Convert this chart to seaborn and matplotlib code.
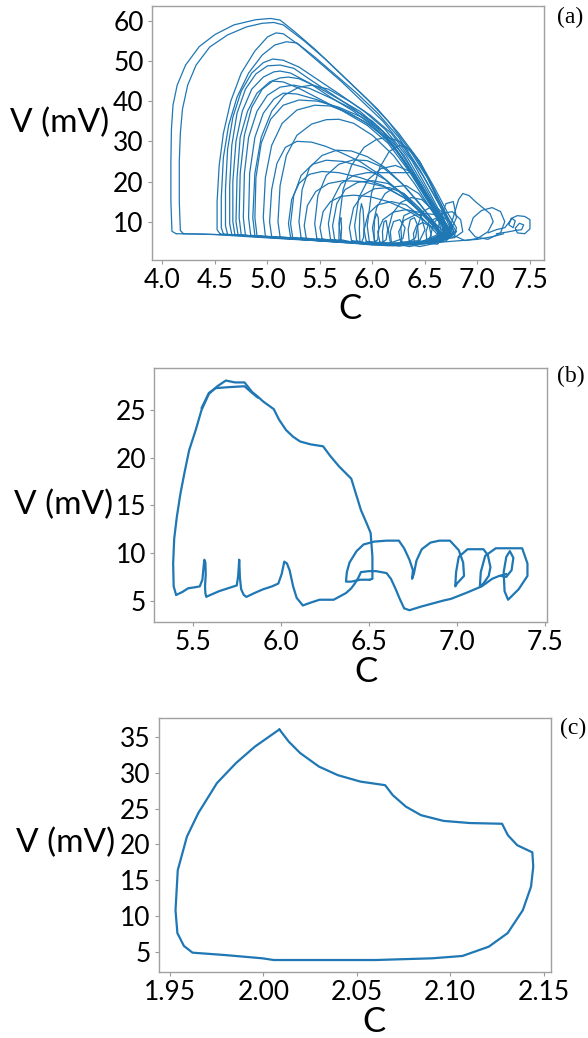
import matplotlib
matplotlib.use("Agg")
import matplotlib.pyplot as plt
import pandas as pd
import seaborn as sns

BLUE = "#1f77b4"

# ---------------- Panel (a): chaotic trajectory, drawn as loops ----------------
a_big = [
    ([4.13, 4.09, 4.08, 4.08, 4.085, 4.10, 4.14, 4.22, 4.35, 4.50, 4.68, 4.89, 5.03, 5.12, 5.25, 5.45, 5.65, 5.85, 6.05, 6.25, 6.45, 6.60, 6.72, 6.80, 6.78, 6.60, 6.30, 5.95, 5.55, 5.10, 4.70, 4.40, 4.13],
     [7.0, 7.6, 15, 25, 33, 39, 44, 49, 53.6, 56.6, 59, 60.3, 60.6, 60.2, 57.5, 53, 48, 43, 38, 32, 25, 18, 12, 8.5, 6.3, 5.0, 4.5, 4.6, 5.2, 5.9, 6.6, 6.9, 7.0]),
    ([4.20, 4.17, 4.16, 4.16, 4.17, 4.19, 4.24, 4.32, 4.45, 4.62, 4.80, 4.95, 5.06, 5.15, 5.35, 5.55, 5.75, 5.95, 6.15, 6.35, 6.52, 6.66, 6.76, 6.74, 6.55, 6.20, 5.80, 5.30, 4.85, 4.50, 4.20],
     [7.0, 7.8, 15, 25, 32, 38, 44, 49, 53.5, 56.5, 58.5, 59.4, 59.6, 59.0, 55, 50.5, 45.5, 40.5, 35, 28, 21, 14, 9, 6.2, 4.9, 4.5, 4.8, 5.5, 6.2, 6.8, 7.0]),
    ([4.55, 4.52, 4.52, 4.54, 4.58, 4.65, 4.75, 4.88, 5.00, 5.08, 5.15, 5.30, 5.50, 5.70, 5.90, 6.10, 6.30, 6.48, 6.62, 6.73, 6.78, 6.70, 6.45, 6.05, 5.60, 5.10, 4.75, 4.55],
     [6.9, 8.0, 15, 24, 32, 40, 47, 52.5, 56, 57.0, 56.8, 54, 49.5, 45, 40, 35, 28.5, 21.5, 15, 10, 7.2, 5.5, 4.6, 4.5, 5.2, 6.0, 6.6, 6.9]),
    ([4.58, 4.56, 4.56, 4.58, 4.63, 4.71, 4.82, 4.95, 5.07, 5.18, 5.28, 5.45, 5.65, 5.85, 6.05, 6.25, 6.45, 6.60, 6.72, 6.78, 6.68, 6.40, 6.00, 5.55, 5.05, 4.75, 4.58],
     [6.9, 8.5, 16, 26, 34, 41, 47, 51.5, 54, 54.8, 54.5, 51, 46.5, 42, 37, 31, 23, 16, 10.5, 7.5, 5.4, 4.5, 4.6, 5.3, 6.1, 6.6, 6.9]),
    ([4.62, 4.60, 4.60, 4.62, 4.67, 4.75, 4.85, 4.96, 5.05, 5.15, 5.30, 5.50, 5.70, 5.92, 6.12, 6.32, 6.50, 6.64, 6.74, 6.72, 6.50, 6.10, 5.65, 5.15, 4.80, 4.62],
     [6.8, 9, 18, 28, 36, 42.5, 47, 49.6, 50.5, 50.2, 48.5, 45, 41.5, 37.5, 33, 26.5, 18.5, 12, 8, 5.8, 4.7, 4.5, 5.1, 5.9, 6.5, 6.8]),
    ([4.66, 4.64, 4.64, 4.66, 4.71, 4.79, 4.89, 5.00, 5.12, 5.25, 5.40, 5.60, 5.80, 6.00, 6.20, 6.40, 6.56, 6.68, 6.75, 6.65, 6.35, 5.95, 5.50, 5.05, 4.78, 4.66],
     [6.8, 9.5, 19, 29, 37, 43, 46.8, 48.8, 49.0, 48.2, 45.5, 42, 38.5, 34.5, 29, 21.5, 14.5, 9.5, 6.8, 5.0, 4.4, 4.6, 5.3, 6.1, 6.6, 6.8]),
    ([4.69, 4.67, 4.67, 4.70, 4.76, 4.85, 4.96, 5.06, 5.12, 5.22, 5.40, 5.60, 5.82, 6.02, 6.22, 6.42, 6.58, 6.70, 6.76, 6.62, 6.30, 5.88, 5.40, 4.95, 4.69],
     [6.7, 10, 20, 30, 37.5, 43, 46, 47.3, 47.5, 47.0, 44.5, 41, 37.5, 33.5, 28, 20, 13.5, 9, 6.6, 5.0, 4.5, 4.7, 5.5, 6.2, 6.7]),
    ([4.72, 4.70, 4.71, 4.74, 4.81, 4.90, 5.02, 5.12, 5.20, 5.30, 5.48, 5.68, 5.88, 6.08, 6.28, 6.46, 6.60, 6.70, 6.66, 6.40, 6.00, 5.55, 5.10, 4.85, 4.72],
     [6.7, 10, 21, 31, 37.5, 42, 44.8, 45.8, 46.0, 45.6, 43.5, 40.5, 37.5, 33, 26, 18, 12, 8, 5.6, 4.4, 4.6, 5.2, 6.0, 6.5, 6.7]),
    ([4.75, 4.73, 4.74, 4.78, 4.85, 4.95, 5.05, 5.15, 5.30, 5.50, 5.72, 5.95, 6.15, 6.35, 6.52, 6.65, 6.74, 6.60, 6.20, 5.75, 5.25, 4.90, 4.75],
     [6.7, 11, 22, 31.5, 38.5, 43, 45.0, 44.8, 43.2, 40.5, 37.5, 34, 29.5, 22.5, 15.5, 10.5, 7.2, 5.2, 4.5, 4.8, 5.7, 6.3, 6.7]),
    ([4.79, 4.77, 4.78, 4.82, 4.90, 5.00, 5.12, 5.25, 5.40, 5.60, 5.80, 6.00, 6.20, 6.40, 6.56, 6.68, 6.72, 6.55, 6.15, 5.70, 5.20, 4.92, 4.79],
     [6.6, 11, 22, 31, 37.5, 41.5, 43.5, 44.0, 43.2, 40.8, 38.2, 35, 30, 22, 15, 10, 7, 5.0, 4.5, 4.9, 5.8, 6.3, 6.6]),
    ([4.84, 4.82, 4.83, 4.88, 4.96, 5.06, 5.15, 5.28, 5.48, 5.70, 5.92, 6.12, 6.32, 6.50, 6.64, 6.72, 6.58, 6.20, 5.75, 5.25, 4.95, 4.84],
     [6.6, 11, 22, 31, 37, 40.5, 42.0, 41.8, 40.3, 38, 35, 31, 24.5, 17, 11, 7.5, 5.3, 4.4, 4.9, 5.8, 6.4, 6.6]),
    ([4.88, 4.86, 4.88, 4.94, 5.04, 5.16, 5.30, 5.42, 5.58, 5.78, 5.98, 6.18, 6.38, 6.55, 6.68, 6.74, 6.56, 6.15, 5.65, 5.15, 4.88],
     [6.5, 11, 22, 31, 37.5, 41.5, 43.5, 44, 43, 40, 36.5, 32, 25, 17, 10.5, 7, 5.0, 4.2, 4.9, 5.9, 6.5]),
    ([4.90, 4.88, 4.89, 4.94, 5.03, 5.15, 5.30, 5.48, 5.68, 5.90, 6.10, 6.30, 6.48, 6.62, 6.70, 6.62, 6.30, 5.85, 5.35, 5.00, 4.90],
     [6.5, 11, 21, 29.5, 35.5, 39, 40.3, 40.0, 38.5, 36, 32.5, 26.5, 18.5, 12, 8, 5.5, 4.5, 4.7, 5.6, 6.2, 6.5]),
    ([4.98, 4.96, 4.98, 5.04, 5.14, 5.28, 5.45, 5.60, 5.78, 5.98, 6.18, 6.38, 6.55, 6.66, 6.70, 6.50, 6.05, 5.55, 5.15, 4.98],
     [6.4, 11, 21, 29, 34.5, 37.8, 39.0, 38.8, 37, 34, 29.5, 22, 14.5, 9.5, 6.8, 4.8, 4.5, 5.3, 6.0, 6.4]),
]

a_mid = [
    ([5.12, 5.10, 5.12, 5.18, 5.28, 5.42, 5.56, 5.68, 5.82, 6.00, 6.20, 6.40, 6.56, 6.66, 6.68, 6.48, 6.05, 5.55, 5.12],
     [6.2, 10, 19, 26.5, 31.5, 34.3, 35.4, 35.5, 34.5, 31.5, 26.5, 19.5, 13, 9, 6.5, 4.7, 4.4, 5.3, 6.2]),
    ([5.04, 5.02, 5.04, 5.09, 5.17, 5.28, 5.42, 5.55, 5.70, 5.88, 6.08, 6.28, 6.46, 6.60, 6.66, 6.50, 6.10, 5.60, 5.04],
     [6.3, 10, 18, 24.5, 28.5, 30.0, 29.8, 28.8, 27.2, 25, 21.5, 17, 12.5, 8.8, 6.4, 4.8, 4.5, 5.3, 6.3]),
    ([5.32, 5.30, 5.33, 5.40, 5.52, 5.66, 5.80, 5.95, 6.12, 6.30, 6.46, 6.60, 6.66, 6.50, 6.10, 5.70, 5.32],
     [6.0, 10, 18, 23.5, 26.5, 27.8, 27.6, 26.2, 23.5, 19, 14, 9.5, 6.8, 4.9, 4.4, 5.0, 6.0]),
    ([5.47, 5.45, 5.48, 5.56, 5.68, 5.82, 5.95, 6.10, 6.28, 6.45, 6.58, 6.64, 6.45, 6.05, 5.70, 5.47],
     [5.8, 9.5, 16.5, 21.5, 24.3, 25.4, 25.2, 23.5, 19.5, 14.5, 10, 7, 4.8, 4.4, 5.0, 5.8]),
    ([5.70, 5.68, 5.72, 5.80, 5.92, 6.04, 6.14, 6.26, 6.40, 6.54, 6.66, 6.74, 6.72, 6.50, 6.10, 5.85, 5.70],
     [5.5, 9.5, 18, 24, 28.5, 30.5, 31.0, 30.0, 26.5, 20.5, 14, 9.5, 6.8, 5.0, 4.3, 4.7, 5.5]),
    ([5.60, 5.58, 5.62, 5.70, 5.82, 5.95, 6.15, 6.39, 6.48, 6.57, 6.64, 6.66, 6.48, 6.10, 5.78, 5.60],
     [5.6, 9.5, 15.5, 19.5, 21.5, 22.2, 22.2, 22.2, 18.5, 13.5, 9.5, 6.8, 4.8, 4.3, 4.9, 5.6]),
    ([5.80, 5.78, 5.82, 5.90, 6.02, 6.16, 6.30, 6.44, 6.56, 6.64, 6.55, 6.20, 5.95, 5.80],
     [5.3, 8.5, 13.5, 16.5, 18.2, 18.5, 17.0, 13.5, 9.8, 7.0, 5.0, 4.3, 4.7, 5.3]),
    ([5.94, 5.92, 5.96, 6.05, 6.18, 6.32, 6.45, 6.56, 6.64, 6.52, 6.20, 5.94],
     [5.1, 8, 12, 14.2, 15.0, 14.2, 11.5, 8.5, 6.2, 4.7, 4.3, 5.1]),
    ([6.07, 6.05, 6.10, 6.20, 6.32, 6.45, 6.58, 6.68, 6.60, 6.30, 6.07],
     [4.9, 7.5, 10.5, 12.4, 13.0, 12.3, 10, 7.5, 5.2, 4.3, 4.9]),
    ([5.37, 5.35, 5.38, 5.46, 5.58, 5.72, 5.90, 6.10, 6.30, 6.48, 6.60, 6.64, 6.45, 6.00, 5.60, 5.37],
     [5.8, 9, 14, 17.5, 19.5, 20.2, 20.0, 18.8, 16, 12, 8.5, 6.4, 4.7, 4.4, 5.2, 5.8]),
    ([5.24, 5.22, 5.25, 5.32, 5.43, 5.56, 5.72, 5.92, 6.12, 6.32, 6.50, 6.62, 6.66, 6.45, 6.00, 5.55, 5.24],
     [6.0, 9.5, 16.5, 21.5, 24.3, 25.3, 25.0, 23.5, 20.5, 16, 11, 7.8, 6.2, 4.7, 4.4, 5.3, 6.0]),
    ([5.97, 5.95, 5.99, 6.07, 6.16, 6.26, 6.36, 6.46, 6.56, 6.66, 6.74, 6.70, 6.45, 6.15, 5.97],
     [5.0, 9, 17, 23.5, 27.5, 29.0, 28.0, 24.5, 19, 13, 8.5, 6.0, 4.5, 4.4, 5.0]),
]

a_mid2 = [
    ([5.52, 5.50, 5.53, 5.60, 5.70, 5.82, 5.98, 6.15, 6.32, 6.48, 6.60, 6.66, 6.50, 6.05, 5.75, 5.52],
     [5.7, 8.5, 12.5, 15, 16.3, 16.6, 16.2, 15, 13, 10.5, 8, 6.2, 4.6, 4.2, 4.9, 5.7]),
    ([5.64, 5.62, 5.66, 5.74, 5.86, 6.00, 6.15, 6.32, 6.48, 6.60, 6.68, 6.55, 6.15, 5.85, 5.64],
     [5.5, 9, 14.5, 18, 19.8, 20.2, 19.5, 16.5, 12.5, 9, 6.5, 4.6, 4.0, 4.6, 5.5]),
    ([5.85, 5.83, 5.87, 5.96, 6.08, 6.22, 6.36, 6.48, 6.60, 6.70, 6.75, 6.60, 6.20, 5.98, 5.85],
     [5.2, 9, 16, 20.5, 23.2, 24.0, 22.5, 18.5, 13.5, 9.5, 7, 5.0, 4.0, 4.5, 5.2]),
    ([6.02, 6.00, 6.04, 6.12, 6.22, 6.32, 6.44, 6.56, 6.66, 6.72, 6.58, 6.25, 6.02],
     [5.0, 8.5, 13.5, 17, 18.7, 19.0, 17, 13, 9.5, 7, 5.0, 3.9, 5.0]),
    ([6.17, 6.15, 6.19, 6.27, 6.37, 6.47, 6.57, 6.66, 6.72, 6.62, 6.35, 6.17],
     [4.8, 8, 12, 14.8, 16, 15.5, 13, 10, 7.5, 5.2, 3.8, 4.8]),
    ([6.27, 6.25, 6.30, 6.40, 6.52, 6.64, 6.74, 6.80, 6.70, 6.45, 6.27],
     [4.7, 7.5, 10.3, 11.6, 12.0, 11.6, 10, 7.5, 5.2, 3.8, 4.7]),
    ([5.22, 5.20, 5.23, 5.30, 5.40, 5.52, 5.68, 5.88, 6.10, 6.30, 6.48, 6.60, 6.66, 6.45, 6.00, 5.55, 5.22],
     [6.1, 9.5, 15.5, 19.5, 21.8, 22.5, 22.2, 21, 19, 16, 12, 8.5, 6.4, 4.6, 4.2, 5.2, 6.1]),
]

a_small = [
    ([5.88, 5.875, 5.88, 5.895, 5.91, 5.92, 5.915, 5.90], [5.2, 8, 12, 14.5, 13, 9, 6, 5.2]),
    ([6.02, 6.015, 6.02, 6.04, 6.055, 6.06, 6.05, 6.02], [5.0, 7.5, 10.5, 12, 11, 8, 5.5, 5.0]),
    ([6.28, 6.27, 6.30, 6.38, 6.46, 6.50, 6.45, 6.28], [4.9, 8.5, 11.5, 12.5, 11.5, 8, 5.3, 4.9]),
    ([6.44, 6.43, 6.48, 6.58, 6.66, 6.70, 6.62, 6.44], [5.1, 9, 12.5, 14, 12.5, 8.5, 5.5, 5.1]),
    ([6.55, 6.58, 6.66, 6.76, 6.84, 6.86, 6.78, 6.62, 6.55], [6.0, 9.5, 12, 12.5, 10.5, 7.5, 6.0, 5.6, 6.0]),
    ([6.18, 6.17, 6.20, 6.26, 6.31, 6.29, 6.18], [4.8, 7.5, 10, 10.5, 8.5, 5.8, 4.8]),
    ([5.68, 5.682, 5.69, 5.70, 5.706, 5.70, 5.69], [5.4, 8, 10.5, 11, 8.5, 6, 5.4]),
    ([6.35, 6.34, 6.36, 6.40, 6.43, 6.41, 6.35], [5.0, 8, 10.5, 11, 9, 6, 5.0]),
    ([6.10, 6.095, 6.11, 6.13, 6.145, 6.13, 6.10], [4.9, 7.5, 10, 10.3, 8, 5.5, 4.9]),
    ([6.62, 6.64, 6.70, 6.77, 6.80, 6.74, 6.64, 6.62], [7, 10.5, 14.5, 15, 11, 7.5, 6.5, 7]),
    ([6.40, 6.39, 6.42, 6.48, 6.54, 6.56, 6.50, 6.40], [4.6, 7, 9, 9.8, 9, 6.5, 4.5, 4.6]),
    ([6.52, 6.51, 6.54, 6.60, 6.66, 6.69, 6.62, 6.52], [4.6, 7.5, 10, 10.8, 9.5, 6.5, 4.4, 4.6]),
]

a_right = [
    ([6.74, 6.78, 6.82, 6.86, 6.92, 6.98, 7.05, 7.12, 7.15, 7.10, 7.00, 6.88, 6.78, 6.74],
     [8.5, 12, 15.5, 17.0, 16.5, 15, 13.5, 12, 10, 7.5, 5.8, 5.3, 6.5, 8.5]),
    ([6.92, 6.96, 7.04, 7.14, 7.22, 7.26, 7.22, 7.10, 6.98, 6.92],
     [8, 11, 12.8, 13.5, 12.5, 10, 7.2, 5.6, 6.2, 8]),
    ([7.10, 7.18, 7.26, 7.30, 7.33, 7.36, 7.34, 7.30, 7.32, 7.38, 7.45, 7.50, 7.50, 7.45, 7.38, 7.36, 7.40, 7.44, 7.42, 7.36, 7.28, 7.18],
     [7.2, 8, 8.5, 9.8, 10.8, 10.2, 8.5, 9.2, 10.8, 11.5, 11.3, 10.5, 8.2, 7.0, 7.2, 8.4, 9.6, 9.2, 8.0, 7.8, 7.4, 7.0]),
    ([6.60, 6.80, 7.00, 7.15, 7.25], [4.8, 5.2, 5.6, 6.3, 7.0]),
]

# ---------------- Panel (b) ----------------
b_main_c = [5.406, 5.392, 5.389, 5.395, 5.41, 5.43, 5.453, 5.48, 5.517, 5.55, 5.592, 5.64, 5.688, 5.74, 5.794, 5.837, 5.87, 5.90, 5.96, 5.99, 6.03, 6.07, 6.11, 6.17, 6.24, 6.28, 6.33, 6.40, 6.43, 6.455, 6.49, 6.51, 6.52, 6.52, 6.505]
b_main_v = [5.6, 6.5, 8.9, 11.5, 13.8, 16.2, 18.4, 20.8, 22.9, 25.0, 26.7, 27.5, 28.1, 27.9, 27.9, 26.9, 26.4, 25.9, 25.1, 24.0, 22.9, 22.2, 21.7, 21.4, 21.2, 20.2, 19.1, 17.8, 16.0, 14.5, 13.0, 12.1, 9.6, 7.3, 7.2]
b_top2_c = [5.55, 5.592, 5.63, 5.70, 5.794, 5.837, 5.87]
b_top2_v = [25.2, 26.8, 27.3, 27.4, 27.5, 26.8, 26.3]
b_right_c = [6.505, 6.45, 6.40, 6.37, 6.375, 6.39, 6.43, 6.47, 6.53, 6.60, 6.67, 6.70, 6.73, 6.75, 6.745, 6.755, 6.77, 6.80, 6.85, 6.90, 6.96, 7.01, 7.035, 7.04, 7.00, 6.99, 6.995, 7.01, 7.06, 7.15, 7.175, 7.19, 7.18, 7.15, 7.13, 7.135, 7.16, 7.22, 7.30, 7.37, 7.40, 7.40, 7.35, 7.29, 7.27, 7.265, 7.28, 7.30, 7.32, 7.31, 7.28, 7.25]
b_right_v = [7.2, 7.2, 7.0, 7.0, 8.0, 9.0, 10.2, 10.9, 11.2, 11.3, 11.3, 10.5, 9.3, 8.2, 7.3, 7.8, 9.2, 10.4, 11.1, 11.3, 11.3, 10.3, 9.0, 7.6, 6.8, 6.5, 8.0, 9.6, 10.4, 10.4, 9.8, 8.5, 7.6, 6.8, 6.5, 8.0, 9.7, 10.5, 10.5, 10.5, 8.9, 7.6, 6.2, 5.1, 6.0, 8.0, 9.6, 10.2, 9.5, 8.2, 7.5, 7.6]
b_low_c = [5.406, 5.44, 5.474, 5.51, 5.54, 5.555, 5.562, 5.566, 5.572, 5.574, 5.570, 5.572, 5.577, 5.60, 5.65, 5.70, 5.75, 5.758, 5.764, 5.768, 5.775, 5.79, 5.805, 5.85, 5.90, 5.95, 5.986, 6.005, 6.02, 6.035, 6.05, 6.07, 6.09, 6.125, 6.17, 6.22, 6.30, 6.37, 6.40, 6.42, 6.44, 6.455, 6.50, 6.54, 6.60, 6.625, 6.65, 6.675, 6.70, 6.73, 6.80, 6.86, 6.92, 6.967, 7.05, 7.14, 7.20, 7.24, 7.28]
b_low_v = [5.6, 5.9, 6.3, 6.4, 6.5, 7.2, 8.6, 9.3, 9.0, 7.8, 6.5, 5.8, 5.4, 5.6, 6.0, 6.3, 6.6, 7.6, 9.3, 7.4, 6.2, 5.6, 5.4, 5.8, 6.2, 6.5, 6.8, 7.8, 9.1, 8.9, 8.2, 6.5, 5.3, 4.5, 4.8, 5.1, 5.1, 5.8, 6.3, 6.8, 7.4, 8.0, 8.1, 8.1, 7.9, 7.3, 6.3, 5.2, 4.2, 4.0, 4.4, 4.7, 5.0, 5.2, 5.8, 6.5, 7.3, 7.6, 7.8]

# ---------------- Panel (c): limit cycle ----------------
c_c = [2.0086, 2.0136, 2.0197, 2.0298, 2.0399, 2.052, 2.0652, 2.0693, 2.0763, 2.0844, 2.0965, 2.1106, 2.1278, 2.1309, 2.1359, 2.144, 2.1445, 2.1433, 2.1389, 2.1308, 2.1207, 2.1066, 2.0904, 2.0601, 2.0399, 2.0056, 1.9995, 1.9793, 1.9621, 1.9575, 1.954, 1.953, 1.9542, 1.9591, 1.9652, 1.9752, 1.9854, 1.9955, 2.0086]
c_v = [36.1, 34.4, 32.8, 30.9, 29.7, 28.8, 28.3, 26.9, 25.3, 24.1, 23.3, 23.0, 22.9, 21.3, 19.9, 18.9, 16.9, 14.1, 10.8, 7.6, 5.7, 4.4, 4.07, 3.83, 3.83, 3.83, 4.07, 4.53, 4.86, 5.8, 7.6, 10.8, 16.4, 21.1, 24.4, 28.6, 31.4, 33.7, 36.1]

a_xticks = [4.0, 4.5, 5.0, 5.5, 6.0, 6.5, 7.0, 7.5]
a_yticks = [10, 20, 30, 40, 50, 60]
b_xticks = [5.5, 6.0, 6.5, 7.0, 7.5]
b_yticks = [5, 10, 15, 20, 25]
c_xticks = [1.95, 2.00, 2.05, 2.10, 2.15]
c_yticks = [5, 10, 15, 20, 25, 30, 35]


def segments_df(segs):
    rows = []
    for k, (cs, vs) in enumerate(segs):
        for i, (c, v) in enumerate(zip(cs, vs)):
            rows.append({"seg": k, "i": i, "C": c, "V": v})
    return pd.DataFrame(rows)


sns.set_theme(style="white")
plt.rcParams["font.family"] = ["Lato", "DejaVu Sans"]
plt.rcParams["text.color"] = "black"
plt.rcParams["axes.labelcolor"] = "black"
plt.rcParams["xtick.color"] = "black"
plt.rcParams["ytick.color"] = "black"

fig = plt.figure(figsize=(5.88, 10.38), dpi=100)
ax_a = fig.add_axes([0.2585, 0.7495, 0.6667, 0.2447])
ax_b = fig.add_axes([0.2624, 0.4011, 0.6679, 0.2447])
ax_c = fig.add_axes([0.2699, 0.0639, 0.6672, 0.2441])

df_a = segments_df(a_big + a_mid + a_mid2 + a_small + a_right)
df_b = segments_df([(b_main_c, b_main_v), (b_top2_c, b_top2_v), (b_right_c, b_right_v), (b_low_c, b_low_v)])
df_c = segments_df([(c_c, c_v)])

for ax, df, lw in [(ax_a, df_a, 0.9), (ax_b, df_b, 1.6), (ax_c, df_c, 1.6)]:
    sns.lineplot(data=df, x="C", y="V", units="seg", estimator=None, sort=False,
                 color=BLUE, linewidth=lw, ax=ax, legend=False)

ax_a.set_xlim(3.90, 7.634); ax_a.set_ylim(0.45, 63.7)
ax_b.set_xlim(5.282, 7.511); ax_b.set_ylim(2.8, 29.45)
ax_c.set_xlim(1.944, 2.154); ax_c.set_ylim(2.2, 37.66)

ax_a.set_xticks(a_xticks); ax_a.set_xticklabels([f"{t:.1f}" for t in a_xticks])
ax_a.set_yticks(a_yticks); ax_a.set_yticklabels([str(t) for t in a_yticks])
ax_b.set_xticks(b_xticks); ax_b.set_xticklabels([f"{t:.1f}" for t in b_xticks])
ax_b.set_yticks(b_yticks); ax_b.set_yticklabels([str(t) for t in b_yticks])
ax_c.set_xticks(c_xticks); ax_c.set_xticklabels([f"{t:.2f}" for t in c_xticks])
ax_c.set_yticks(c_yticks); ax_c.set_yticklabels([str(t) for t in c_yticks])

label_pos = {
    ax_a: ((-0.237, 0.539), (0.505, -0.193)),
    ax_b: ((-0.232, 0.459), (0.539, -0.197)),
    ax_c: ((-0.238, 0.508), (0.549, -0.197)),
}
for ax, (ypos, xpos) in label_pos.items():
    ax.tick_params(axis="both", which="both", direction="out", length=3, width=0.8,
                   color="#999999", labelsize=19, pad=3, labelcolor="black",
                   bottom=True, left=True)
    for s in ax.spines.values():
        s.set_color("#a0a0a0")
        s.set_linewidth(1.0)
    ax.set_ylabel("V (mV)", fontsize=24, rotation=0, ha="center", va="center", color="black")
    ax.yaxis.set_label_coords(*ypos)
    ax.set_xlabel("C", fontsize=25, va="center", ha="center", color="black")
    ax.xaxis.set_label_coords(*xpos)
    ax.grid(False)

for txt, x, y in [("(a)", 570, 17), ("(b)", 571, 376), ("(c)", 573, 728.5)]:
    fig.text(x / 588, 1 - y / 1038, txt, family=["Liberation Serif", "DejaVu Serif"],
             fontsize=17, ha="center", va="center", color="black")

fig.savefig("out.png", dpi=100)
